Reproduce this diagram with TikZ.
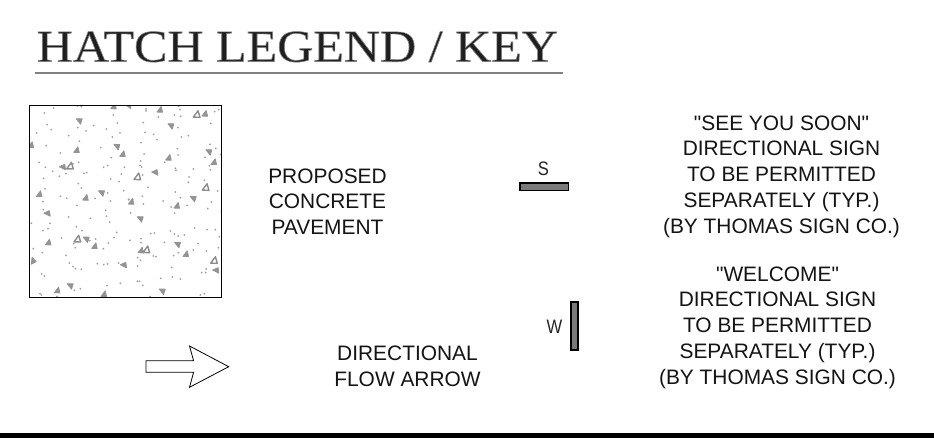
\documentclass[tikz,border=0pt]{standalone}
\usepackage{fontspec}
\setmainfont{Liberation Sans}
\newfontfamily\labelfont{Liberation Sans}
\newfontfamily\titlefont{Liberation Serif}
\tikzset{
  x=1pt,y=-1pt,
  label text/.style={font=\labelfont\fontsize{20.9}{25.75}\selectfont,align=center,text=black!92,inner sep=0pt},
  sign mark/.style={font=\labelfont\fontsize{19.5}{22}\selectfont,text=black!85,inner sep=0pt,xscale=.85,transform shape},
  sign bar/.style={draw=black,line width=1.7pt,fill=black!52},
  hatch dot/.style={fill=black!38},
  hatch tri/.style={fill=black!42,draw=black!42,line width=.8pt,line join=round},
  hatch open/.style={fill=white,draw=black!45,line width=1.4pt,line join=round},
}
\begin{document}
\begin{tikzpicture}
\useasboundingbox (0,0) rectangle (934,438);
\fill[white] (0,0) rectangle (934,438);
% title
\node[anchor=base west,inner sep=0pt,text=black!88,xscale=1.1,transform shape] (title) at (36.5,61.7)
  {\titlefont\fontsize{45.5}{46}\selectfont\special{pdf:code 2 Tr 0.6 w 0.5 G}HATCH LEGEND / KEY\special{pdf:code 0 Tr}};
\draw[black!50,line width=2pt] (35,72.7) -- (562.7,72.7);
% hatch
\begin{scope}
\clip (30,105.5) rectangle (221.5,297);
\foreach \x/\y in {73/54,101/39,172/33,184/35,280/60,378/42,378/48,476/34,480/44,415/66,463/60,482/64,584/50,596/44,81/89,94/104,50/114,173/98,198/108,221/92,259/102,292/84,370/83,277/126,300/114,375/112,401/118,411/134,474/98,484/126,505/122,572/85,146/122,178/139,79/152,121/174,242/158,363/143,372/177,274/188,472/161,474/180,555/187,570/148,587/160,603/179,605/110,606/125,57/202,76/217,98/229,118/244,138/236,176/202,159/207,192/235,200/233,251/217,263/212,313/217,362/198,360/211,365/216,434/202,466/220,468/226,520/222,568/212,571/224,304/237,272/252,297/260,368/240,71/250,175/266,184/279,75/282,507/246,505/262,553/256,384/277,311/287,466/291,593/288,263/294,121/304,140/310,225/310,326/313,338/313,367/304,481/308}
  \fill[hatch dot] ({20+\x/3},{95+\y/3}) circle (1);
\foreach \x/\y in {171/31,271/18,326/14,370/27,429/18,453/36,501/31,574/21,563/41,70/44,257/46,332/54,464/54,604/48,69/20,146/66,211/70,259/64,269/81,34/85,90/85,84/101,69/107,169/95,186/107,290/112,282/128,125/129,227/132,209/137,161/146,166/158,265/144,250/161,330/136,363/131,363/143,392/116,403/114,451/108,463/117,474/123,493/120,524/99,561/104,586/104,598/125,433/142,534/146,595/158,559/168,520/165,475/173,461/182,400/183,408/185,40/161,67/173,138/181,148/204,159/215,166/221,184/223,232/206,251/209,263/207,296/204,353/188,361/196,353/213,455/217,558/222,545/233,557/233,65/237,73/243,422/250,457/246,481/252,301/265,261/272,352/259,358/259,368/271,163/286,181/281,60/296,64/300,111/304,212/310,390/305,541/300,553/296}
  \fill[hatch dot] ({20+\x/3},{195+\y/3}) circle (1);
\foreach \x/\y/\r in {420/44/0,555/56/0,177/77/75,452/92/75,170/165/0,290/154/75,308/177/0,446/188/0,566/170/75,582/201/0,128/217/100,405/233/100,58/297/0,197/308/0,244/293/75,519/310/75,33/150/0,281/34/0,325/32/90}
  \filldraw[hatch tri,shift={({20+\x/3},{95+\y/3})},rotate=\r] (-3,2.4) -- (2.6,2.6) -- (1.2,-3.2) -- cycle;
\foreach \x/\y/\r in {334/20/0,471/32/0,82/56/100,360/71/75,85/142/0,198/132/75,224/153/0,363/166/0,472/148/75,498/177/0,38/197/30,311/211/100,588/227/100,112/286/0,150/272/75,252/297/0,426/288/75}
  \filldraw[hatch tri,shift={({20+\x/3},{195+\y/3})},rotate=\r] (-3,2.4) -- (2.6,2.6) -- (1.2,-3.2) -- cycle;
\foreach \x/\y in {530/58,150/213,352/245,557/277}
  \filldraw[hatch open,shift={({20+\x/3},{95+\y/3})}] (-3.3,2.8) -- (3.3,3) -- (1.4,-3.6) -- cycle;
\foreach \x/\y in {172/132,379/164,582/196}
  \filldraw[hatch open,shift={({20+\x/3},{195+\y/3})}] (-3.3,2.8) -- (3.3,3) -- (1.4,-3.6) -- cycle;
\end{scope}
\draw[black,line width=.9pt] (29.7,105.3) rectangle (221.6,297);
% arrow
\draw[black,line width=.8pt,line join=miter] (146,360.7) -- (193.6,360.7) -- (189.5,346) -- (228.7,366.7) -- (189.5,387.3) -- (193.6,372.3) -- (146,372.3) -- cycle;
% signs
\draw[sign bar] (520,183.2) rectangle (568.4,190.4);
\draw[sign bar] (571,302) rectangle (578,350);
\node[sign mark] (s) at (543.3,169) {S};
\node[sign mark] (w) at (554.5,326.7) {W};
% labels
\node[label text] (concrete) at (327.5,201.5) {PROPOSED\\CONCRETE\\PAVEMENT};
\node[label text] (flow) at (407.5,366.5) {DIRECTIONAL\\FLOW ARROW};
\node[label text] (soon) at (781.5,176.5) {"SEE YOU SOON"\\DIRECTIONAL SIGN\\TO BE PERMITTED\\SEPARATELY (TYP.)\\(BY THOMAS SIGN CO.)};
\node[label text] (welcome) at (777.5,327.5) {"WELCOME"\\DIRECTIONAL SIGN\\TO BE PERMITTED\\SEPARATELY (TYP.)\\(BY THOMAS SIGN CO.)};
% bottom band
\fill[black] (0,433) rectangle (934,438);
\end{tikzpicture}
\end{document}
